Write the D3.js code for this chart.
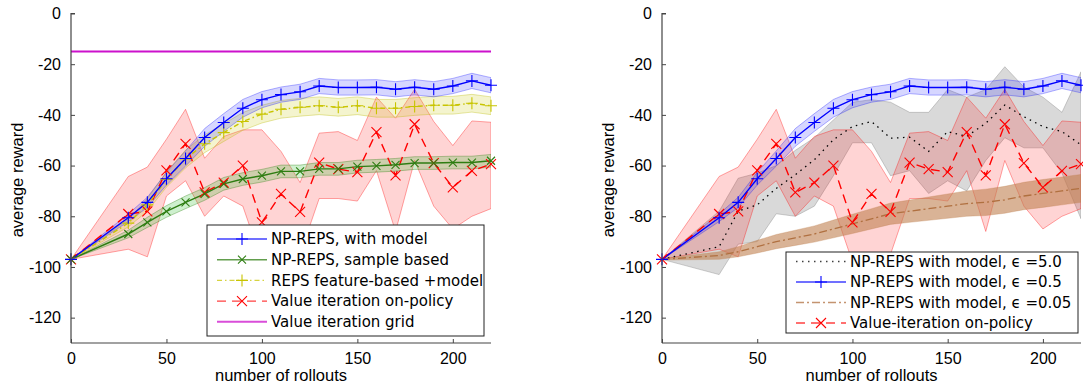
<!DOCTYPE html>
<html>
<head>
<meta charset="utf-8">
<script src="https://cdn.jsdelivr.net/npm/d3@7"></script>
<style>
  body { margin: 0; background: #fff; }
  svg { display: block; }
  .tick text { font-family: "Liberation Sans", Arial, sans-serif; font-size: 16px; fill: #000; }
  .axis-label { font-family: "Liberation Sans", Arial, sans-serif; font-size: 16.5px; fill: #000; }
  .legend text { font-family: "DejaVu Sans", sans-serif; font-size: 15px; fill: #000; }
</style>
</head>
<body>
<div id="area"></div>
<script>
// x positions (number of rollouts)
var rollouts = [0, 30, 40, 50, 60, 70, 80, 90, 100, 110, 120, 130, 140, 150, 160, 170, 180, 190, 200, 210, 220];

// NP-REPS, with model (eps = 0.5)
var npModel    = [-97, -80.6, -74.5, -65.2, -57.2, -48.9, -43.0, -37.4, -34.0, -32.0, -30.9, -28.6, -29.2, -29.2, -29.1, -29.9, -29.1, -29.9, -28.6, -26.6, -28.3];
var npModelErr = [0, 1.5, 2, 2.5, 3, 3.5, 3.5, 3.5, 3.2, 3, 3, 3, 3, 3, 3, 3, 3, 3, 3, 3, 3];

// NP-REPS, sample based
var npSample    = [-97, -87.0, -82.4, -78.1, -74.5, -71.2, -67.2, -65.3, -64.0, -62.3, -62.3, -61.3, -61.3, -60.4, -60.1, -59.7, -59.0, -59.0, -58.8, -58.8, -58.1];
var npSampleErr = [0, 1.5, 2, 2.3, 2.5, 2.5, 2.5, 2.5, 2.5, 2.5, 2.5, 2.5, 2.5, 2.5, 2.5, 2.5, 2.5, 2.5, 2.5, 2.5, 2.5];

// REPS feature-based + model
var repsFeat    = [-97, -82.7, -75.5, -65.5, -57.4, -51.4, -47.0, -42.6, -39.7, -37.8, -37.0, -36.4, -37.0, -36.4, -37.4, -37.4, -36.7, -36.2, -36.2, -35.4, -36.4];
var repsFeatErr = [0, 1.5, 2.5, 3, 3.5, 3.5, 3.5, 3.5, 3.5, 3.5, 3.5, 3.5, 3.5, 3.5, 3.5, 3.5, 3.5, 3.5, 3.5, 3.5, 3.5];

// Value iteration on-policy (mean, upper, lower)
var viPolicy   = [-97, -79.1, -78.1, -61.9, -51.4, -70.6, -66.7, -60.0, -82.4, -71.2, -78.3, -58.8, -61.4, -62.6, -46.8, -63.9, -43.7, -59.0, -68.6, -62.1, -59.4];
var viPolicyHi = [-97, -64.3, -60.6, -49.6, -37.8, -57.1, -48.5, -45.9, -45.9, -54.4, -66.7, -47.2, -46.6, -50.1, -33.0, -41.3, -29.9, -42.6, -52.1, -42.4, -42.9];
var viPolicyLo = [-97, -93, -96, -72, -66, -80, -72, -76, -98, -100, -95, -73, -73, -74, -62, -86, -58, -76, -85, -80, -77];

// Value iteration grid
var viGrid = -15;

// NP-REPS with model, eps = 5.0 (mean, upper, lower)
var npEps5   = [-97, -92, -78, -75.5, -69, -63.6, -57.7, -49.8, -44.6, -42.6, -49.2, -48.8, -54.4, -46.6, -48.5, -43.3, -36.1, -40.7, -44.6, -46.6, -51.8];
var npEps5Hi = [-97, -78, -65, -63, -60, -54, -49, -42, -35, -34, -35, -39, -39, -30, -33, -30, -21, -29, -33, -39, -23];
var npEps5Lo = [-97, -103, -91, -90, -79, -80, -76, -64, -51, -51, -64, -62, -71, -66, -70, -58, -49, -53, -53, -63, -81];

// NP-REPS with model, eps = 0.05
var npEps005    = [-97, -95.5, -94, -92, -90, -88.5, -87, -85, -83, -81, -79, -78, -77, -76, -75, -74.5, -73.5, -72, -71, -70, -69];
var npEps005Err = [0.3, 1.5, 2, 2.5, 2.8, 3, 3.2, 3.5, 3.8, 4, 4.2, 4.4, 4.6, 4.8, 5, 5.2, 5.3, 5.4, 5.5, 5.5, 5.5];

var xTicks = [0, 50, 100, 150, 200];
var yTicks = [-120, -100, -80, -60, -40, -20, 0];

var width = 1083, height = 387;
var svg = d3.select("#area").append("svg")
  .attr("width", width)
  .attr("height", height);

function band(mean, err) {
  return rollouts.map(function (x, i) { return { x: x, hi: mean[i] + err[i], lo: mean[i] - err[i] }; });
}
function band2(hi, lo) {
  return rollouts.map(function (x, i) { return { x: x, hi: hi[i], lo: lo[i] }; });
}
function pts(vals) {
  return rollouts.map(function (x, i) { return { x: x, y: vals[i] }; });
}

function marker(g, type, cx, cy, r, color, w) {
  if (type === "+") {
    g.append("path").attr("d", "M" + (cx - r) + "," + cy + "H" + (cx + r) + "M" + cx + "," + (cy - r) + "V" + (cy + r))
      .attr("stroke", color).attr("stroke-width", w).attr("fill", "none");
  } else {
    g.append("path").attr("d", "M" + (cx - r) + "," + (cy - r) + "L" + (cx + r) + "," + (cy + r) + "M" + (cx - r) + "," + (cy + r) + "L" + (cx + r) + "," + (cy - r))
      .attr("stroke", color).attr("stroke-width", w).attr("fill", "none");
  }
}

function drawPanel(left, right, id, bands, lines, legend) {
  var x = d3.scaleLinear().domain([0, 220]).range([left, right]);
  var y = d3.scaleLinear().domain([-130, 0]).range([343, 13.5]);
  var g = svg.append("g");

  g.append("clipPath").attr("id", id)
    .append("rect").attr("x", left).attr("y", y(0) - 1).attr("width", right - left).attr("height", y(-130) - y(0) + 1);

  var plot = g.append("g").attr("clip-path", "url(#" + id + ")");

  var area = d3.area()
    .x(function (d) { return x(d.x); })
    .y0(function (d) { return y(d.lo); })
    .y1(function (d) { return y(d.hi); });

  bands.forEach(function (b) {
    plot.append("path")
      .datum(b.data)
      .attr("d", area)
      .attr("fill", b.fill)
      .attr("fill-opacity", b.opacity)
      .attr("stroke", b.stroke)
      .attr("stroke-opacity", b.strokeOpacity)
      .attr("stroke-width", 1);
  });

  var line = d3.line()
    .x(function (d) { return x(d.x); })
    .y(function (d) { return y(d.y); });

  lines.forEach(function (l) {
    var data = l.data;
    if (l.constant !== undefined) data = [{ x: 0, y: l.constant }, { x: 220, y: l.constant }];
    plot.append("path")
      .datum(data)
      .attr("d", line)
      .attr("fill", "none")
      .attr("stroke", l.color)
      .attr("stroke-width", l.width)
      .attr("stroke-dasharray", l.dash || null);
  });

  lines.forEach(function (l) {
    if (!l.marker) return;
    l.data.forEach(function (d) {
      marker(g, l.marker, x(d.x), y(d.y), l.msize, l.color, 1.1);
    });
  });

  // axes
  var yAxis = d3.axisLeft(y).tickValues(yTicks).tickSize(-4).tickPadding(10)
    .tickFormat(function (d) { return d === 0 ? "0" : "-" + Math.abs(d); });
  var ya = g.append("g").attr("transform", "translate(" + left + ",0)").call(yAxis);
  var xAxis = d3.axisBottom(x).tickValues(xTicks).tickSize(-4).tickPadding(10);
  var xa = g.append("g").attr("transform", "translate(0," + y(-130) + ")").call(xAxis);
  [ya, xa].forEach(function (a) {
    a.select(".domain").attr("stroke", "#444").attr("stroke-width", 1.2);
    a.selectAll(".tick line").attr("stroke", "#444");
  });
  ya.select(".domain").attr("d", "M" + 0 + "," + y(-130) + "V" + y(0) + "h4");
  xa.select(".domain").attr("d", "M" + x(0) + ",0H" + x(220));

  g.append("text").attr("class", "axis-label")
    .attr("text-anchor", "middle")
    .attr("x", (left + right) / 2).attr("y", 381)
    .text("number of rollouts");
  g.append("text").attr("class", "axis-label")
    .attr("text-anchor", "middle")
    .attr("transform", "translate(" + (left - 48) + ",180) rotate(-90)")
    .text("average reward");

  // legend
  var lg = g.append("g").attr("class", "legend");
  lg.append("rect")
    .attr("x", legend.x).attr("y", legend.y)
    .attr("width", legend.w).attr("height", legend.h)
    .attr("fill", "#fff").attr("stroke", "#222").attr("stroke-width", 1);
  legend.items.forEach(function (it, i) {
    var cy = legend.y + legend.first + i * legend.step;
    var x1 = legend.x + 10, x2 = x1 + legend.sample;
    lg.append("line").attr("x1", x1).attr("x2", x2).attr("y1", cy).attr("y2", cy)
      .attr("stroke", it.color).attr("stroke-width", it.width)
      .attr("stroke-opacity", 0.75)
      .attr("stroke-dasharray", it.dash || null);
    if (it.marker) marker(lg, it.marker, (x1 + x2) / 2, cy, it.msize, it.color, 1.1);
    lg.append("text").attr("x", x2 + 4).attr("y", cy).attr("dy", "0.35em").text(it.label);
  });
}

var blueL   = { color: "#0000ff", width: 1.4, marker: "+", msize: 6 };
var greenL  = { color: "#2e7d12", width: 1.4, marker: "x", msize: 4 };
var yellowL = { color: "#c8c400", width: 1.4, marker: "+", msize: 6, dash: "5,3,1.5,3" };
var redL    = { color: "#ff0000", width: 1.4, marker: "x", msize: 5, dash: "9,6" };

drawPanel(71, 491, "clipL",
  [
    { data: band2(viPolicyHi, viPolicyLo), fill: "#ff0000", opacity: 0.17, stroke: "#ff0000", strokeOpacity: 0.35 },
    { data: band(npSample, npSampleErr), fill: "#22bb22", opacity: 0.22, stroke: "#2e7d12", strokeOpacity: 0.35 },
    { data: band(repsFeat, repsFeatErr), fill: "#cccc22", opacity: 0.22, stroke: "#bbbb00", strokeOpacity: 0.35 },
    { data: band(npModel, npModelErr), fill: "#3333ff", opacity: 0.2, stroke: "#0000ff", strokeOpacity: 0.3 }
  ],
  [
    Object.assign({ data: pts(viPolicy) }, redL),
    Object.assign({ data: pts(npSample) }, greenL),
    Object.assign({ data: pts(repsFeat) }, yellowL),
    Object.assign({ data: pts(npModel) }, blueL),
    { constant: viGrid, color: "#cc11cc", width: 2 }
  ],
  {
    x: 207, y: 225, w: 277, h: 111, first: 14, step: 20.7, sample: 50,
    items: [
      Object.assign({ label: "NP-REPS, with model" }, blueL),
      Object.assign({ label: "NP-REPS, sample based" }, greenL),
      Object.assign({ label: "REPS feature-based +model" }, yellowL),
      Object.assign({ label: "Value iteration on-policy" }, redL),
      { label: "Value iteration grid", color: "#cc11cc", width: 2 }
    ]
  });

var blackL = { color: "#000000", width: 1.3, dash: "1.5,4.5" };
var brownL = { color: "#b07040", width: 1.3, dash: "8,3,2,3" };

drawPanel(662, 1081, "clipR",
  [
    { data: band2(npEps5Hi, npEps5Lo), fill: "#888888", opacity: 0.32, stroke: "#888888", strokeOpacity: 0.4 },
    { data: band2(viPolicyHi, viPolicyLo), fill: "#ff0000", opacity: 0.17, stroke: "#ff0000", strokeOpacity: 0.35 },
    { data: band(npEps005, npEps005Err), fill: "#c08050", opacity: 0.6, stroke: "#c08050", strokeOpacity: 0.3 },
    { data: band(npModel, npModelErr), fill: "#3333ff", opacity: 0.2, stroke: "#0000ff", strokeOpacity: 0.3 }
  ],
  [
    Object.assign({ data: pts(npEps5) }, blackL),
    Object.assign({ data: pts(npEps005) }, brownL),
    Object.assign({ data: pts(viPolicy) }, redL),
    Object.assign({ data: pts(npModel) }, blueL)
  ],
  {
    x: 786, y: 252, w: 292, h: 81, first: 9.5, step: 20.5, sample: 50,
    items: [
      Object.assign({ label: "NP-REPS with model, \u03f5 =5.0" }, blackL),
      Object.assign({ label: "NP-REPS with model, \u03f5 =0.5" }, blueL),
      Object.assign({ label: "NP-REPS with model, \u03f5 =0.05" }, brownL),
      Object.assign({ label: "Value-iteration on-policy" }, redL)
    ]
  });
</script>
</body>
</html>
